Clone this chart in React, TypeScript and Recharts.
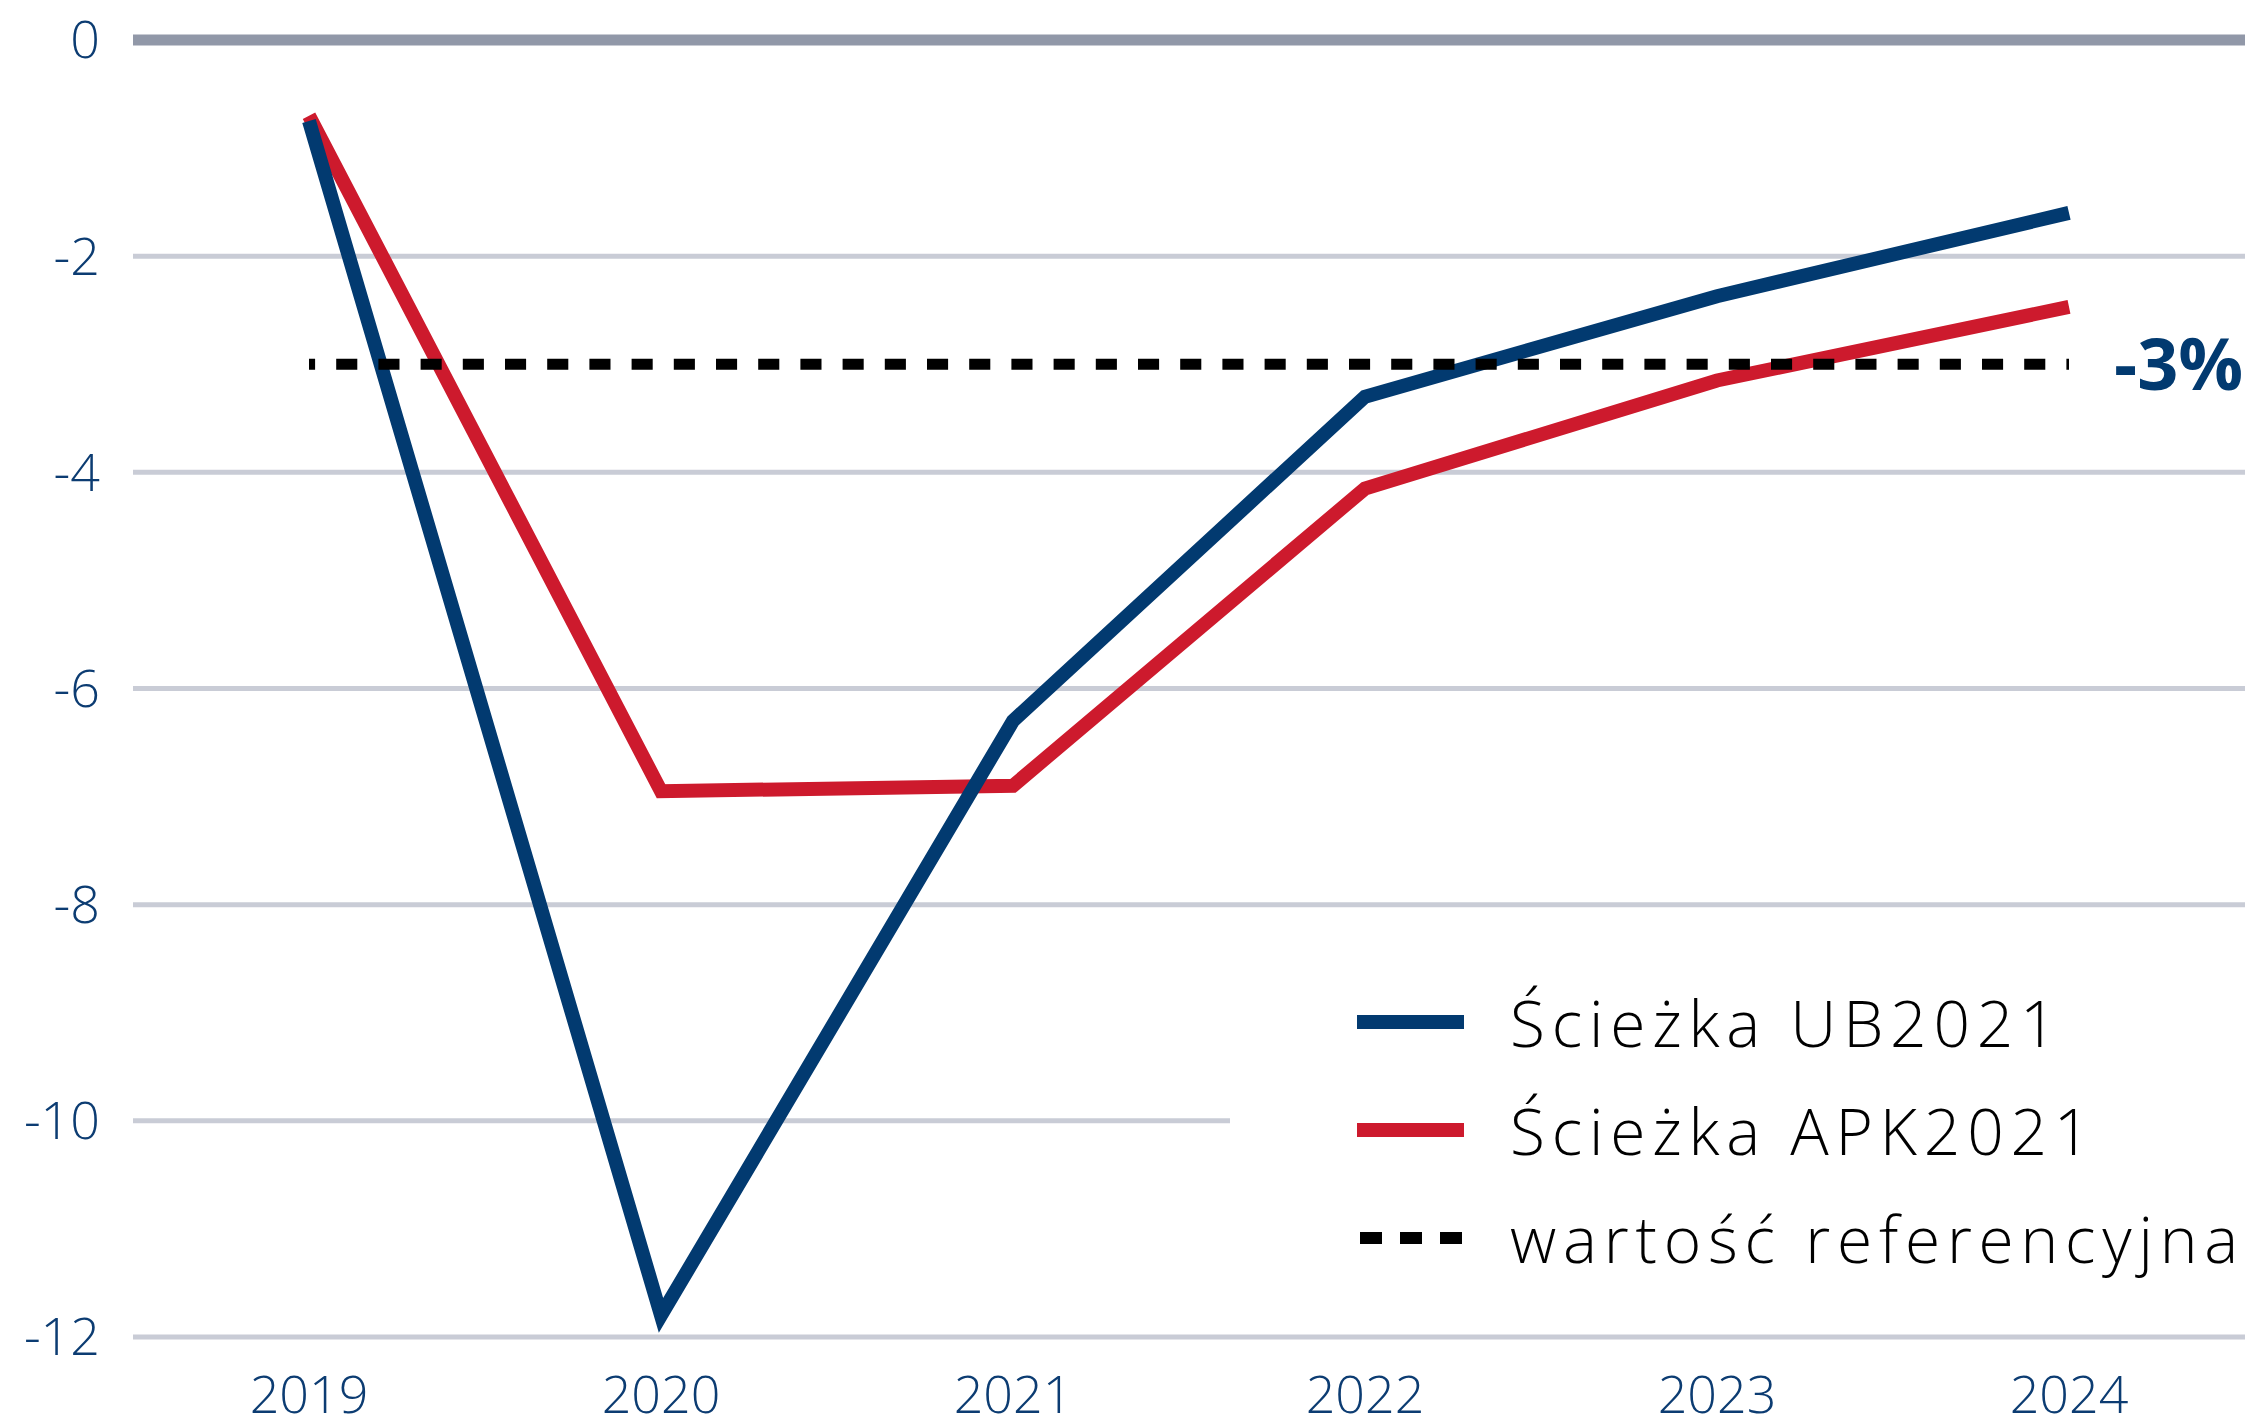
import { LineChart, Line, XAxis, YAxis, CartesianGrid, ReferenceLine, Legend } from "recharts"

const years = ["2019", "2020", "2021", "2022", "2023", "2024"]
const ub2021 = [-0.75, -11.8, -6.3, -3.3, -2.37, -1.6]
const apk2021 = [-0.7, -6.95, -6.9, -4.15, -3.15, -2.47]
const yTicks = [0, -2, -4, -6, -8, -10, -12]
const refValue = -3
const refLabel = "-3%"

const seriesNames = ["Ścieżka UB2021", "Ścieżka APK2021"]
const refName = "wartość referencyjna"

const BLUE = "#023a70"
const RED = "#cd1a2d"
const FONT = "'Open Sans', sans-serif"

const data = years.map((year, i) => ({
  year,
  ub: ub2021[i],
  apk: apk2021[i],
}))

function LegendBox() {
  const rows = [
    { name: seriesNames[0], color: BLUE, dashed: false },
    { name: seriesNames[1], color: RED, dashed: false },
    { name: refName, color: "#000", dashed: true },
  ]
  return (
    <div style={{ background: "#fff", width: "100%", height: "100%", paddingLeft: 127, boxSizing: "border-box" }}>
      {rows.map((r) => (
        <div key={r.name} style={{ display: "flex", alignItems: "center", height: 108 }}>
          <svg width={107} height={14} style={{ flexShrink: 0 }}>
            <line
              x1={0}
              y1={7}
              x2={107}
              y2={7}
              stroke={r.color}
              strokeWidth={r.dashed ? 12 : 14}
              strokeDasharray={r.dashed ? "22 18" : undefined}
              strokeDashoffset={r.dashed ? -3 : undefined}
            />
          </svg>
          <span
            style={{
              marginLeft: 46,
              fontFamily: FONT,
              fontWeight: 300,
              fontSize: 64,
              color: "#000",
              letterSpacing: 6.8,
              whiteSpace: "nowrap",
            }}
          >
            {r.name}
          </span>
        </div>
      ))}
    </div>
  )
}

export default function App() {
  return (
    <div style={{ width: 2256, height: 1427, background: "#fff", fontFamily: FONT }}>
      <style>{"body{margin:0}"}</style>
      <LineChart
        width={2256}
        height={1427}
        data={data}
        margin={{ top: 40, right: 11, left: 0, bottom: 0 }}
      >
        <CartesianGrid vertical={false} stroke="#c9ccd6" strokeWidth={5} />
        <XAxis
          dataKey="year"
          axisLine={false}
          tickLine={false}
          height={90}
          padding={{ left: 176, right: 176 }}
          tickMargin={33}
          tick={{ fill: "#0c3c72", fontSize: 52, fontWeight: 300, fontFamily: FONT }}
        />
        <YAxis
          domain={[-12, 0]}
          ticks={yTicks}
          axisLine={false}
          tickLine={false}
          width={133}
          tickMargin={27}
          tick={{ fill: "#0c3c72", fontSize: 52, fontWeight: 300, fontFamily: FONT }}
        />
        <ReferenceLine y={0} stroke="#9198a8" strokeWidth={11} />
        <Line
          type="linear"
          dataKey="apk"
          stroke={RED}
          strokeWidth={14}
          dot={false}
          activeDot={false}
          isAnimationActive={false}
        />
        <Line
          type="linear"
          dataKey="ub"
          stroke={BLUE}
          strokeWidth={14}
          dot={false}
          activeDot={false}
          isAnimationActive={false}
        />
        <ReferenceLine
          segment={[
            { x: years[0], y: refValue },
            { x: years[years.length - 1], y: refValue },
          ]}
          stroke="#000"
          strokeWidth={11}
          strokeDasharray="21.1 21.1"
          strokeDashoffset={15}
          label={{
            value: refLabel,
            position: "right",
            offset: 45,
            fill: BLUE,
            fontSize: 72,
            fontWeight: 700,
            fontFamily: FONT,
          }}
        />
        <Legend
          layout="vertical"
          align="center"
          verticalAlign="middle"
          content={() => <LegendBox />}
          wrapperStyle={{ left: 1230, top: 968, width: 1026, height: 324 }}
        />
      </LineChart>
    </div>
  )
}
